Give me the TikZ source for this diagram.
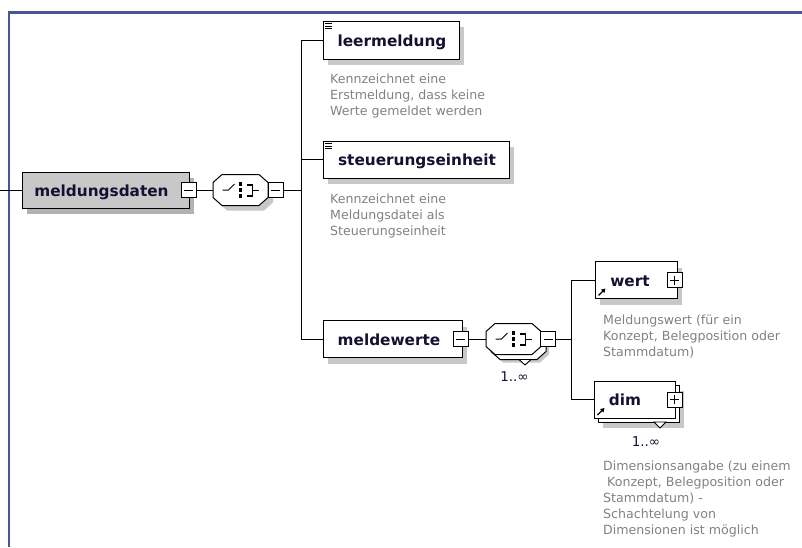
\documentclass[tikz,border=0pt]{standalone}
\usepackage{fontspec}
\setmainfont{DejaVu Sans}
\usetikzlibrary{shadows,arrows.meta}

\definecolor{framecol}{RGB}{72,86,150}
\definecolor{namecol}{RGB}{18,18,48}
\definecolor{desccol}{RGB}{130,130,130}
\definecolor{shadecol}{RGB}{200,200,200}
\definecolor{greyfill}{RGB}{200,200,200}
\definecolor{greyshade}{RGB}{178,178,178}

% octagon of a compositor, centred at (#2,#3)
\newcommand\octo[3]{%
  \path[#1] ({#2-27.5},{#3-7.5}) -- ({#2-18.5},{#3-15.5}) -- ({#2+18.5},{#3-15.5})
    -- ({#2+27.5},{#3-7.5}) -- ({#2+27.5},{#3+7.5}) -- ({#2+18.5},{#3+15.5})
    -- ({#2-18.5},{#3+15.5}) -- ({#2-27.5},{#3+7.5}) -- cycle;}

\tikzset{
  wire/.style={draw=black, line width=0.9pt},
  elembox/.style={draw=black, fill=white, line width=1pt, inner sep=0,
    general shadow={fill=shadecol, shadow xshift=5pt, shadow yshift=-6pt}},
  plainbox/.style={draw=black, fill=white, line width=1pt, inner sep=0},
  rootbox/.style={draw=black, fill=greyfill, line width=1pt, inner sep=0,
    general shadow={fill=greyshade, shadow xshift=5pt, shadow yshift=-6pt}},
  compnode/.style={draw=none, minimum width=55, minimum height=31, inner sep=0},
  nm/.style={font=\fontsize{15.3}{18}\selectfont\bfseries, text=namecol, inner sep=0,
    text height=12pt, text depth=0pt},
  desc/.style={font=\fontsize{12.6}{16}\selectfont, text=desccol, align=left,
    anchor=north west, inner sep=0},
  mult/.style={font=\fontsize{13.5}{15}\selectfont, text=namecol, inner sep=0},
  xbox/.style={draw=black, fill=white, line width=0.9pt, minimum size=15, inner sep=0},
  minusbox/.style={xbox, path picture={
    \draw[line width=0.9pt] ([xshift=-4.5pt]path picture bounding box.center)
      -- ([xshift=4.5pt]path picture bounding box.center);}},
  plusbox/.style={xbox, path picture={
    \draw[line width=0.9pt] ([xshift=-4.5pt]path picture bounding box.center)
      -- ([xshift=4.5pt]path picture bounding box.center);
    \draw[line width=0.9pt] ([yshift=-4.5pt]path picture bounding box.center)
      -- ([yshift=4.5pt]path picture bounding box.center);}},
  seqicon/.pic={
    \draw[line width=1pt] (-18,0) -- (-12,0) -- (-6,-6);
    \fill (-1.8,-7.8) rectangle (1.8,-4.2);
    \fill (-1.8,-1.8) rectangle (1.8,1.8);
    \fill (-1.8,4.2) rectangle (1.8,7.8);
    \draw[line width=1.1pt] (6,-5) -- (12,-5) -- (12,6) -- (6,6);
    \draw[line width=1pt] (12,0) -- (18,0);
  },
  refarrow/.style={line width=1.3pt, -{Triangle[length=4pt,width=4.5pt]}},
  docmark/.style={line width=0.9pt}
}

\begin{document}
\begin{tikzpicture}[x=1pt,y=-1pt]
\useasboundingbox (0,0) rectangle (802,547);
\fill[white] (0,0) rectangle (802,547);

% frame
\draw[framecol, line width=2.2pt] (8.6,547) -- (8.6,12.4) -- (802,12.4);

% root element
\coordinate (lin) at (0,190);
\node[rootbox, minimum width=167, minimum height=36] (md) at (105.5,190) {};
\node[nm] (mdt) at (101.5,190) {meldungsdaten};
\node[minusbox] (mdm) at (188.5,190) {};
\draw[wire] (lin) -- (md.west);

% first sequence compositor
\octo{fill=shadecol}{245.5}{195}
\octo{draw=black, fill=white, line width=1pt}{240.5}{190}
\pic at (240.5,190) {seqicon};
\node[compnode] (seq1) at (240.5,190) {};
\node[minusbox] (seq1m) at (275.5,190) {};
\draw[wire] (mdm.east) -- (seq1.west);
\coordinate (j1) at (301,190);
\draw[wire] (seq1m.east) -- (j1);

% leermeldung
\node[elembox, minimum width=136, minimum height=38] (leer) at (391,40) {};
\node[nm] (leert) at (392,40) {leermeldung};
\draw[docmark] (325,23.5) -- (332,23.5) (325,26) -- (332,26) (325,28.5) -- (332,28.5);
\node[desc] (leerd) at (330,72) {\rule{0pt}{11pt}Kennzeichnet eine\\Erstmeldung, dass keine\\Werte gemeldet werden};

% steuerungseinheit
\node[elembox, minimum width=186, minimum height=37] (steu) at (416,159.5) {};
\node[nm] (steut) at (417,159.5) {steuerungseinheit};
\draw[docmark] (325,143.5) -- (332,143.5) (325,146) -- (332,146) (325,148.5) -- (332,148.5);
\node[desc] (steud) at (330,192.5) {\rule{0pt}{11pt}Kennzeichnet eine\\Meldungsdatei als\\Steuerungseinheit};

% meldewerte
\node[elembox, minimum width=139, minimum height=37] (mw) at (392.5,339) {};
\node[nm] (mwt) at (389,339) {meldewerte};
\node[minusbox] (mwm) at (460.5,339) {};

\draw[wire] (j1) |- (leer.west);
\draw[wire] (j1) |- (steu.west);
\draw[wire] (j1) |- (mw.west);

% second sequence compositor, repeated 1..unbounded
\octo{fill=shadecol}{521.5}{347}
\octo{draw=black, fill=white, line width=1pt}{518.5}{344}
\draw[fill=white, line width=0.9pt] (519,359.5) -- (531,359.5) -- (525,365) -- cycle;
\octo{draw=black, fill=white, line width=1pt}{513.5}{339}
\pic at (513.5,339) {seqicon};
\node[compnode] (seq2) at (513.5,339) {};
\node[minusbox] (seq2m) at (548,339) {};
\node[mult] (seq2x) at (514.5,377) {1..∞};
\draw[wire] (mwm.east) -- (seq2.west);
\coordinate (j2) at (571,339);
\draw[wire] (seq2m.east) -- (j2);

% wert
\node[elembox, minimum width=82, minimum height=37] (wert) at (636,280) {};
\node[nm] (wertt) at (630,280) {wert};
\node[plusbox] (wertp) at (674.5,280) {};
\draw[refarrow] (598.5,295.5) -- (605.5,288.5);
\node[desc] (wertd) at (603,313) {\rule{0pt}{11pt}Meldungswert (für ein\\Konzept, Belegposition oder\\Stammdatum)};

% dim, repeated 1..unbounded
\node[elembox, minimum width=81, minimum height=37] (dimback) at (638.5,403.5) {};
\draw[fill=white, line width=0.9pt] (654,422) -- (666,422) -- (660,428) -- cycle;
\node[plainbox, minimum width=81, minimum height=37] (dim) at (634.5,399.5) {};
\node[nm] (dimt) at (625,399.5) {dim};
\node[plusbox] (dimp) at (674.5,399.5) {};
\draw[refarrow] (597.5,415) -- (604.5,408);
\node[mult] (dimx) at (646,441.5) {1..∞};
\node[desc] (dimd) at (603,459) {\rule{0pt}{11pt}Dimensionsangabe (zu einem\\\ Konzept, Belegposition oder\\Stammdatum) -\\Schachtelung von\\Dimensionen ist möglich};

\draw[wire] (j2) |- (wert.west);
\draw[wire] (j2) |- (dim.west);
\end{tikzpicture}
\end{document}
